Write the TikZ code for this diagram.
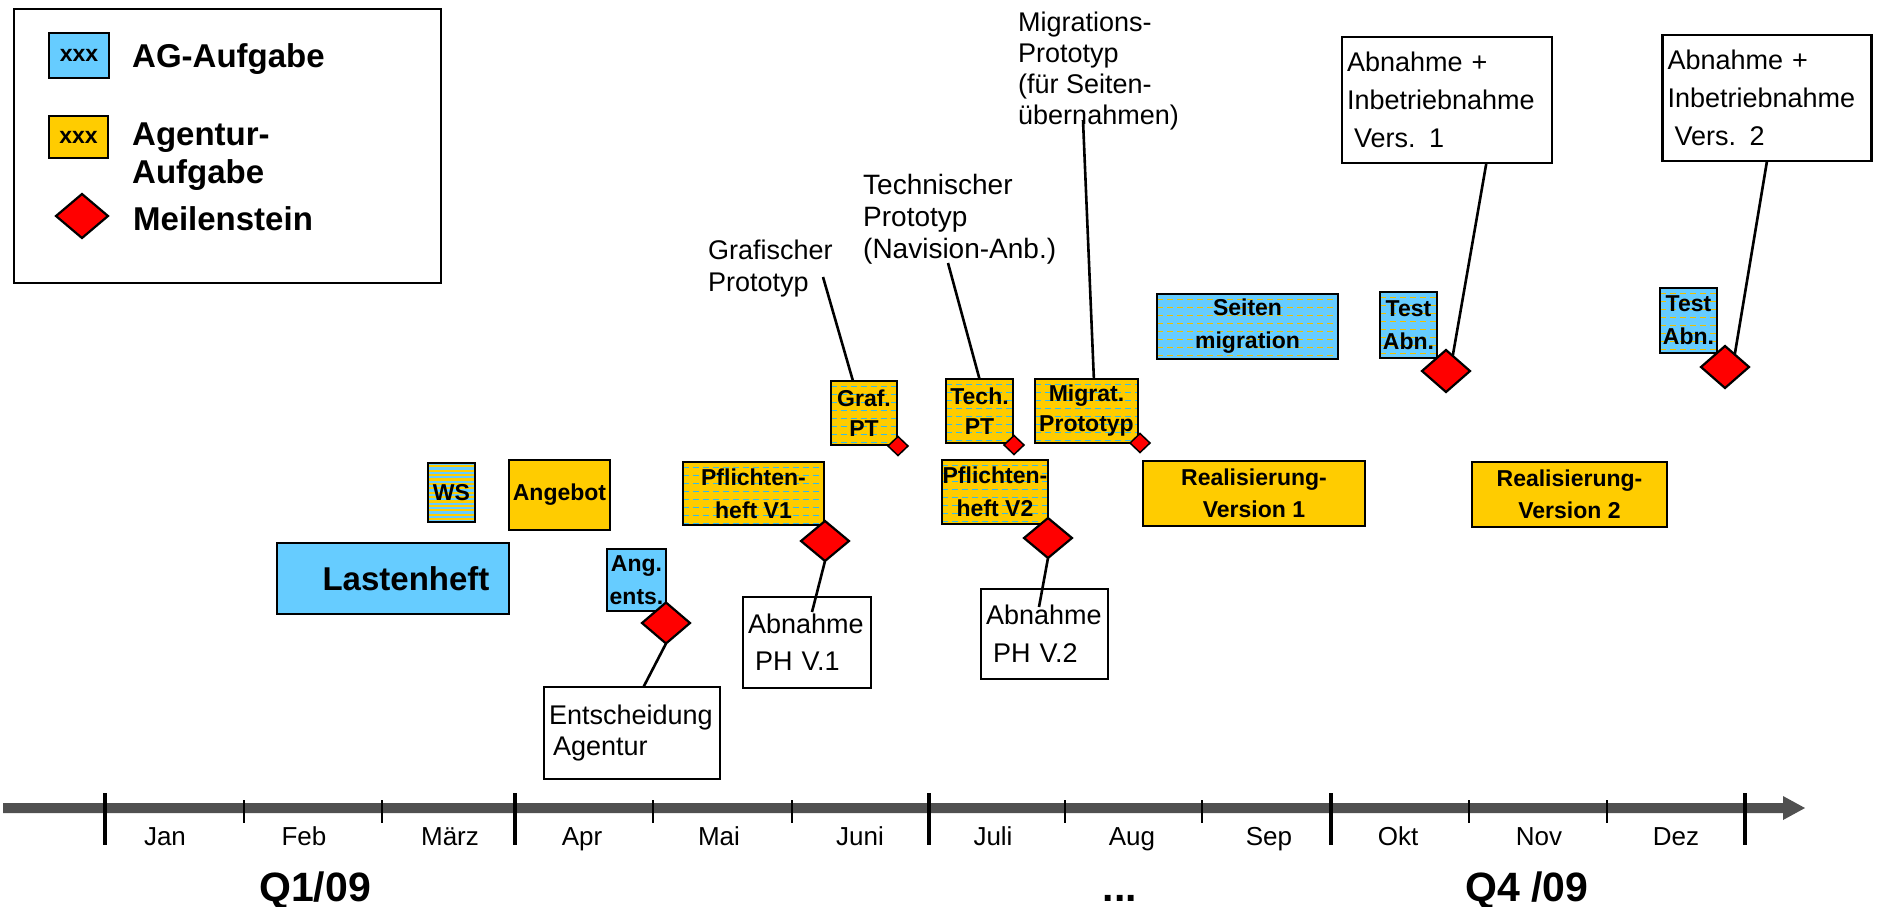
\documentclass[tikz,border=0pt]{standalone}
\usepackage{fontspec}
\setmainfont{Liberation Sans}
\usetikzlibrary{shapes.geometric}
\definecolor{agblue}{HTML}{66CCFF}
\definecolor{agorange}{HTML}{FFCC00}
\definecolor{msred}{HTML}{FF0000}
\definecolor{axgray}{HTML}{505050}
\definecolor{dashblue}{HTML}{33BBEE}
\definecolor{dashyel}{HTML}{EEC000}
\newcommand{\fsz}[2]{\fontsize{#1pt}{#2pt}\selectfont}
\tikzset{
  box/.style={draw=black, line width=2.6pt, inner sep=0pt, outer sep=0pt, align=center},
  agbox/.style={box, fill=agblue},
  azbox/.style={box, fill=agorange},
  callbox/.style={box, fill=white, align=left, inner xsep=5pt},
  dashfill/.style={path picture={\foreach \k in {1,...,12}{\draw[draw=#1, line width=1pt, dash pattern=on 6pt off 4pt] ([yshift=-\k*8pt+3pt]path picture bounding box.north west) -- ([yshift=-\k*8pt+3pt]path picture bounding box.north east);}}},
  stripefill/.style={fill=agblue, path picture={\foreach \k in {0,...,15}{\fill[agorange] ([yshift=-\k*4.4pt-2.2pt]path picture bounding box.north west) rectangle ([yshift=-\k*4.4pt-4.4pt]path picture bounding box.north east);}}},
  ms/.style={diamond, draw=black, fill=msred, line width=2.2pt, inner sep=0pt, outer sep=0pt},
  conn/.style={draw=black, line width=2.6pt},
  month/.style={anchor=base, inner sep=0pt, font=\fsz{26}{30}},
  qlabel/.style={anchor=base, inner sep=0pt, font=\bfseries\fsz{41}{46}},
  toplabel/.style={anchor=north west, align=left, inner sep=0pt, font=\fsz{27}{32}},
  majortick/.style={draw=black, line width=4pt},
  minortick/.style={draw=black, line width=2pt},
}
\begin{document}
\begin{tikzpicture}[x=1pt,y=-1pt]
\useasboundingbox (0,0) rectangle (1877,906);

% legend
\node[box, line width=2.4pt, minimum width=427pt, minimum height=274pt] (legend) at (227.5,146) {};
\node[agbox, minimum width=60pt, minimum height=45pt, font=\bfseries\fsz{23}{26}] (legsw1) at (79,55.5) {xxx};
\node[anchor=base west, inner sep=0pt, font=\bfseries\fsz{33}{38}] (legtx1) at (132,67) {AG-Aufgabe};
\node[azbox, minimum width=59pt, minimum height=42pt, font=\bfseries\fsz{23}{26}] (legsw2) at (78.5,137) {xxx};
\node[anchor=north west, align=left, inner sep=0pt, font=\bfseries\fsz{33}{38}] (legtx2) at (132,123) {Agentur-\\Aufgabe};
\node[ms, minimum width=52pt, minimum height=44pt] (legms) at (82,216) {};
\node[anchor=base west, inner sep=0pt, font=\bfseries\fsz{33}{38}] (legtx3) at (133,230) {Meilenstein};

% time axis
\coordinate (ax0) at (3,803);
\coordinate (ax1) at (1783,803);
\coordinate (ax2) at (1783,796);
\coordinate (axtip) at (1805,808);
\coordinate (ax3) at (1783,820);
\coordinate (ax4) at (1783,813);
\coordinate (ax5) at (3,813);
\fill[axgray] (ax0) -- (ax1) -- (ax2) -- (axtip) -- (ax3) -- (ax4) -- (ax5) -- cycle;
\foreach \xx in {105,515,929,1331,1745} \draw[majortick] (\xx,793) -- (\xx,845);
\foreach \xx in {244,382,653,792,1065,1202,1469,1607} \draw[minortick] (\xx,800) -- (\xx,823);
\foreach \xx/\mm [count=\i] in {165/Jan,304/Feb,450/März,582/Apr,719/Mai,860/Juni,993/Juli,1132/Aug,1269/Sep,1398/Okt,1539/Nov,1676/Dez}
  \node[month] (mon\i) at (\xx,845) {\mm};
\node[qlabel] (q1) at (315,901) {Q1/09};
\node[qlabel] (qdots) at (1120,901) {...};
\node[qlabel] (q4) at (1527,901) {Q4 /09};

% tasks
\node[agbox, minimum width=232pt, minimum height=71pt, font=\bfseries\fsz{33}{38}] (lasten) at (393,578.5) {\hspace*{26pt}Lastenheft};
\node[box, stripefill, minimum width=47pt, minimum height=59pt, font=\bfseries\fsz{23}{26}] (ws) at (451.5,492.5) {WS};
\node[azbox, minimum width=101pt, minimum height=70pt, font=\bfseries\fsz{23}{26}] (angebot) at (559.5,495) {Angebot};
\node[agbox, minimum width=59pt, minimum height=62pt, font=\bfseries\fsz{23}{33}] (angents) at (636.5,580) {Ang.\\ents.};
\node[ms, minimum width=48pt, minimum height=41pt] (ms1) at (666,623) {};

\node[azbox, dashfill=dashblue, minimum width=141pt, minimum height=63pt, font=\bfseries\fsz{23}{33}] (pf1) at (753.5,493.5) {Pflichten-\\heft V1};
\node[ms, minimum width=48pt, minimum height=40pt] (ms2) at (825,541) {};

\node[azbox, dashfill=dashblue, minimum width=66pt, minimum height=64pt, font=\bfseries\fsz{23}{30}] (grafpt) at (864,413) {Graf.\\PT};
\node[ms, line width=1.5pt, minimum width=20pt, minimum height=19pt] (msg) at (898,446) {};
\node[azbox, dashfill=dashblue, minimum width=67pt, minimum height=64pt, font=\bfseries\fsz{23}{30}] (techpt) at (979.5,411) {Tech.\\PT};
\node[ms, line width=1.5pt, minimum width=20pt, minimum height=19pt] (mst) at (1014,445) {};
\node[azbox, dashfill=dashblue, minimum width=103pt, minimum height=64pt, font=\bfseries\fsz{23}{30}] (migpt) at (1086.5,411) {Migrat.\\Prototyp};
\node[ms, line width=1.5pt, minimum width=20pt, minimum height=19pt] (msm) at (1140,443) {};

\node[azbox, dashfill=dashblue, minimum width=106pt, minimum height=64pt, font=\bfseries\fsz{23}{33}] (pf2) at (995,492) {Pflichten-\\heft V2};
\node[ms, minimum width=48pt, minimum height=40pt] (ms3) at (1048,538) {};

\node[agbox, dashfill=dashyel, minimum width=181pt, minimum height=65pt, font=\bfseries\fsz{23}{33}] (seiten) at (1247.5,326.5) {Seiten\\migration};
\node[agbox, dashfill=dashyel, minimum width=57pt, minimum height=66pt, font=\bfseries\fsz{23}{33}] (test1) at (1408.5,325) {Test\\Abn.};
\node[ms, minimum width=48pt, minimum height=42pt] (ms4) at (1446,371) {};
\node[azbox, minimum width=222pt, minimum height=65pt, font=\bfseries\fsz{23}{32}] (real1) at (1254,493.5) {Realisierung-\\Version 1};
\node[azbox, minimum width=195pt, minimum height=65pt, font=\bfseries\fsz{23}{32}] (real2) at (1569.5,494.5) {Realisierung-\\Version 2};
\node[agbox, dashfill=dashyel, minimum width=57pt, minimum height=65pt, font=\bfseries\fsz{23}{33}] (test2) at (1688.5,320.5) {Test\\Abn.};
\node[ms, minimum width=48pt, minimum height=42pt] (ms5) at (1725,367) {};

% callouts
\node[callbox, text width=166pt, minimum height=92pt, font=\fsz{27}{31}] (entbox) at (632,733) {Entscheidung\\\hspace*{4pt}Agentur};
\node[callbox, text width=118pt, minimum height=91pt, font=\fsz{27}{37}] (ph1box) at (807,642.5) {Abnahme\\\hspace*{7pt}PH V.1};
\node[callbox, text width=117pt, minimum height=90pt, font=\fsz{27}{38}] (ph2box) at (1044.5,634) {Abnahme\\\hspace*{7pt}PH V.2};
\node[callbox, text width=200pt, minimum height=126pt, font=\fsz{27}{38}] (v1box) at (1447,100) {Abnahme +\\Inbetriebnahme\\\hspace*{7pt}Vers. 1};
\node[callbox, text width=199pt, minimum height=126pt, font=\fsz{27}{38}] (v2box) at (1767,98) {Abnahme +\\Inbetriebnahme\\\hspace*{7pt}Vers. 2};

\node[toplabel] (graflbl) at (708,240) {Grafischer\\Prototyp};
\node[toplabel, font=\fsz{28}{32}] (techlbl) at (863,174) {Technischer\\Prototyp\\(Navision-Anb.)};
\node[toplabel, font=\fsz{27}{31}] (migrlbl) at (1018,12) {Migrations-\\Prototyp\\(für Seiten-\\übernahmen)};

\coordinate (cgraf) at (823,277);
\coordinate (ctech) at (948,263);
\coordinate (cmigr) at (1083,120);
\coordinate (ph1end) at (812,612);
\coordinate (ph2end) at (1039,607);

\draw[conn] (cgraf) -- (grafpt.109);
\draw[conn] (ctech) -- (techpt.north);
\draw[conn] (cmigr) -- (migpt.77);
\draw[conn] (ms1.south) -- (entbox.76.5);
\draw[conn] (ms2.south) -- (ph1end);
\draw[conn] (ms3.south) -- (ph2end);
\draw[conn] (v1box.-58) -- (ms4.66);
\draw[conn] (v2box.south) -- (ms5.52);
\end{tikzpicture}
\end{document}
